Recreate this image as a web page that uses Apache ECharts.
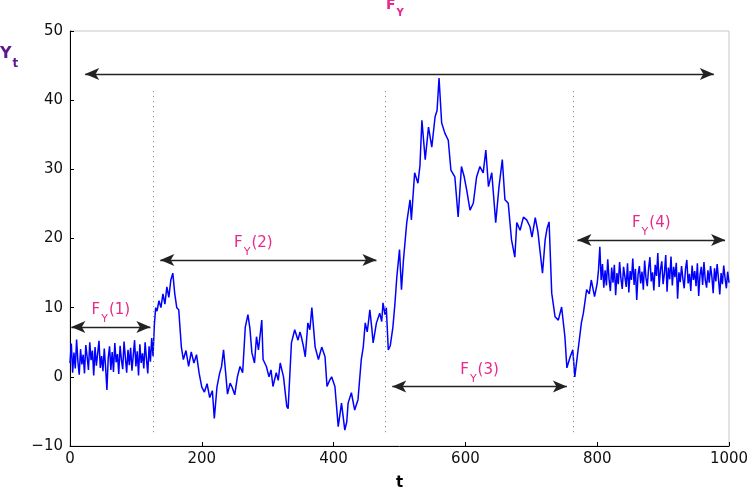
<!DOCTYPE html>
<html>
<head>
<meta charset="utf-8">
<script src="https://cdn.jsdelivr.net/npm/echarts@6/dist/echarts.min.js"></script>
<style>
  html, body { margin: 0; padding: 0; background: #fff; }
  #chart { width: 748px; height: 498px; }
</style>
</head>
<body>
<div id="chart"></div>
<script>
// series Y_t as [t, value]
const yPoints = [
  [0, 2.0], [2, 4.8], [4, 0.6], [6, 3.5], [8, 1.2], [10, 5.4], [12, 2.2], [14, 0.3], [16, 4.0], [18, 1.8],
  [20, 3.2], [22, 0.5], [24, 4.6], [26, 2.9], [28, 1.0], [30, 5.0], [32, 2.4], [34, 3.8], [36, 0.2], [38, 4.3],
  [40, 1.6], [42, 3.4], [44, 5.2], [46, 1.3], [48, 3.0], [50, 0.8], [52, 4.1], [54, 1.4], [56, -1.9], [58, 2.7],
  [60, 4.4], [62, 1.0], [64, 3.6], [66, 0.7], [68, 4.9], [70, 2.1], [72, 3.3], [74, 0.4], [76, 4.5], [78, 2.5],
  [80, 1.1], [82, 5.1], [84, 2.8], [86, 0.6], [88, 3.9], [90, 1.7], [92, 4.2], [94, 0.9], [96, 3.1], [98, 5.3],
  [100, 1.5], [102, 3.7], [104, 0.2], [106, 4.7], [108, 2.0], [110, 3.4], [112, 1.2], [114, 5.0], [116, 2.6], [118, 0.5],
  [120, 4.4], [122, 2.2], [124, 5.6], [126, 3.0], [128, 7.5],
  [130, 10.0], [132, 9.5], [135, 11.0], [138, 10.0], [141, 12.0], [144, 10.5], [147, 13.0], [150, 11.5], [153, 14.0], [156, 15.0],
  [159, 12.0], [162, 10.0], [165, 9.7], [169, 4.3], [172, 2.5], [176, 3.8], [180, 1.5], [184, 3.6], [188, 2.0], [192, 3.2],
  [196, 0.5], [200, -1.5], [204, -2.2], [208, -1.0], [212, -3.0], [216, -2.0], [219, -6.0], [223, -1.5], [227, 0.5], [230, 1.5],
  [233, 3.9], [236, 0.8], [239, -2.5], [243, -0.9], [246, -1.5], [250, -2.6], [254, 0.0], [258, 1.5], [262, 0.6], [266, 7.2],
  [270, 9.0], [273, 7.0], [276, 3.5], [280, 2.0], [283, 5.8], [286, 3.9], [291, 8.2], [293, 2.5], [298, 1.5], [302, 0.0],
  [305, 1.0], [308, -1.4], [313, 0.6], [316, -0.5], [319, 2.0], [324, 0.0], [329, -4.3], [331, -4.6], [336, 4.9], [341, 6.8],
  [346, 5.3], [349, 6.5], [351, 5.8], [354, 4.5], [357, 2.9], [361, 7.8], [364, 6.8], [367, 10.0], [372, 4.3], [377, 2.5],
  [382, 4.3], [387, 2.9], [390, -1.4], [394, -0.5], [397, 0.0], [402, -1.4], [407, -7.2], [412, -3.8], [417, -7.7], [420, -6.5],
  [422, -3.8], [427, -2.3], [432, -4.8], [437, -3.3], [442, 2.5], [445, 4.3], [448, 7.8], [451, 6.5], [453, 8.0], [455, 9.7],
  [458, 7.0], [460, 4.9], [465, 7.8], [470, 9.2], [473, 8.0], [475, 10.7], [478, 9.0], [480, 10.0], [483, 3.9], [486, 4.5],
  [490, 7.2], [493, 10.5], [496, 14.5], [500, 18.4], [503, 12.6], [506, 16.9], [511, 22.3], [516, 25.6], [518, 22.7], [523, 29.5],
  [528, 28.0], [531, 30.5], [534, 37.1], [539, 31.4], [544, 36.1], [549, 33.2], [554, 37.6], [557, 38.5], [560, 43.2], [564, 36.7],
  [569, 35.2], [574, 34.2], [578, 29.9], [584, 28.9], [589, 23.1], [594, 30.4], [598, 29.0], [602, 27.0], [607, 24.1], [612, 25.1],
  [617, 28.9], [622, 30.4], [627, 29.5], [631, 32.8], [635, 27.5], [640, 29.5], [646, 22.3], [651, 27.5], [656, 31.4], [660, 25.6],
  [665, 25.1], [670, 19.8], [675, 17.3], [678, 22.3], [683, 21.2], [688, 23.1], [693, 22.7], [698, 21.7], [701, 20.2], [706, 23.0],
  [710, 21.0], [713, 18.4], [717, 15.0], [721, 19.8], [724, 21.5], [727, 22.4], [731, 12.1], [736, 8.7], [741, 8.2], [746, 10.1],
  [751, 5.8], [754, 1.3], [759, 2.9], [763, 3.9], [766, 0.0], [771, 3.9], [776, 7.8], [779, 9.2], [784, 12.6], [788, 12.0],
  [791, 14.0], [796, 11.6], [800, 13.5], [802, 15.5], [804, 18.8],
  [806, 14.0], [808, 16.3], [810, 12.9], [812, 15.4], [814, 13.2], [816, 17.0], [818, 14.1], [820, 12.4], [822, 15.8], [824, 13.6],
  [826, 16.2], [828, 11.8], [830, 15.0], [832, 13.4], [834, 16.6], [836, 14.2], [838, 12.7], [840, 15.9], [842, 14.5], [844, 13.0],
  [846, 16.4], [848, 12.2], [850, 15.3], [852, 14.0], [854, 17.1], [856, 13.3], [858, 15.6], [860, 11.1], [862, 14.8], [864, 16.0],
  [866, 13.5], [868, 15.2], [870, 12.6], [872, 16.8], [874, 14.3], [876, 13.1], [878, 15.7], [880, 17.3], [882, 13.8], [884, 15.1],
  [886, 12.5], [888, 16.2], [890, 14.6], [892, 17.9], [894, 13.0], [896, 15.5], [898, 16.7], [900, 13.4], [902, 15.0], [904, 17.6],
  [906, 12.3], [908, 15.8], [910, 14.1], [912, 17.4], [914, 13.2], [916, 15.9], [918, 14.4], [920, 16.5], [922, 11.3], [924, 15.1],
  [926, 13.7], [928, 16.0], [930, 14.2], [932, 12.8], [934, 15.6], [936, 16.9], [938, 13.5], [940, 14.9], [942, 12.4], [944, 16.1],
  [946, 14.0], [948, 15.3], [950, 13.1], [952, 16.4], [954, 11.7], [956, 14.7], [958, 15.9], [960, 13.3], [962, 16.6], [964, 14.0],
  [966, 12.9], [968, 15.4], [970, 13.6], [972, 16.0], [974, 14.5], [976, 12.1], [978, 15.7], [980, 13.8], [982, 16.3], [984, 14.2],
  [986, 11.9], [988, 15.0], [990, 13.4], [992, 16.1], [994, 14.3], [996, 12.8], [998, 15.2], [1000, 13.6]
];

// change points (dotted verticals)
const breakTimes = [127, 478, 764];
const breakRange = [-8, 41.5];

// double arrows: [tStart, tEnd, level, label]
const arrows = [
  [23, 977, 43.8, ''],
  [2, 122, 7.2, '1'],
  [137, 465, 16.9, '2'],
  [489, 754, -1.4, '3'],
  [770, 994, 19.8, '4']
];

const xTicks = [0, 1000, 200];
const yTicks = [-10, 50, 10];

const pink = '#e8288a';
const fontFamily = '"DejaVu Sans", Verdana, sans-serif';

const chart = echarts.init(document.getElementById('chart'));

// big letters sit at the top of the line box, subscripts at the bottom
const fyRich = {
  a: { color: pink, fontSize: 15, fontFamily: fontFamily, lineHeight: 22, verticalAlign: 'top' },
  s: { color: pink, fontSize: 11, fontFamily: fontFamily, lineHeight: 22, verticalAlign: 'bottom', padding: [0, 1, 0, 1] }
};

const option = {
  animation: false,
  backgroundColor: '#fff',
  grid: {
    left: 70, right: 19, top: 31, bottom: 52,
    outerBoundsMode: 'none',
    show: true, borderColor: '#c8c8c8', borderWidth: 1
  },
  title: {
    text: '{a|F}{s|Y}',
    left: 386, top: -2,
    padding: 0,
    textStyle: {
      rich: {
        a: { color: pink, fontSize: 14, fontWeight: 'bold', fontFamily: fontFamily, lineHeight: 20, verticalAlign: 'top' },
        s: { color: pink, fontSize: 10, fontWeight: 'bold', fontFamily: fontFamily, lineHeight: 20, verticalAlign: 'bottom', padding: [0, 0, 0, 1] }
      }
    }
  },
  graphic: [{
    type: 'text',
    left: 0, top: 46,
    style: {
      text: '{a|Y}{s|t}',
      rich: {
        a: { fill: '#5b1a8c', fontSize: 16, fontWeight: 'bold', fontFamily: fontFamily, lineHeight: 24, verticalAlign: 'top' },
        s: { fill: '#5b1a8c', fontSize: 12, fontWeight: 'bold', fontFamily: fontFamily, lineHeight: 24, verticalAlign: 'bottom', padding: [0, 0, 0, 1] }
      }
    }
  }],
  xAxis: {
    type: 'value',
    min: xTicks[0], max: xTicks[1], interval: xTicks[2],
    name: 't', nameLocation: 'middle', nameGap: 30,
    nameTextStyle: { color: '#000', fontSize: 15, fontWeight: 'bold', fontFamily: fontFamily },
    axisLine: { onZero: false, lineStyle: { color: '#000', width: 1 } },
    axisTick: { inside: true, length: 4, lineStyle: { color: '#000' } },
    axisLabel: { color: '#111', fontSize: 15, fontFamily: fontFamily, margin: 6, formatter: v => String(v) },
    splitLine: { show: false }
  },
  yAxis: {
    type: 'value',
    min: yTicks[0], max: yTicks[1], interval: yTicks[2],
    axisLine: { show: true, onZero: false, lineStyle: { color: '#000', width: 1 } },
    axisTick: { show: true, inside: true, length: 4, lineStyle: { color: '#000' } },
    axisLabel: {
      color: '#111', fontSize: 15, fontFamily: fontFamily, margin: 7,
      formatter: v => String(v).replace('-', '\u2212')
    },
    splitLine: { show: false }
  },
  series: [
    {
      type: 'line',
      data: yPoints,
      symbol: 'none',
      lineStyle: { color: '#0000ff', width: 1.5 },
      z: 3
    },
    {
      type: 'line',
      data: [],
      silent: true,
      markLine: {
        silent: true,
        symbol: 'none',
        animation: false,
        label: { show: false },
        lineStyle: { color: '#777', type: [1, 4], width: 1 },
        data: breakTimes.map(t => [{ coord: [t, breakRange[0]] }, { coord: [t, breakRange[1]] }])
      }
    },
    {
      type: 'line',
      data: [],
      silent: true,
      markLine: {
        silent: true,
        animation: false,
        symbol: ['arrow', 'arrow'],
        symbolSize: [9, 14],
        lineStyle: { color: '#222', type: 'solid', width: 1.3 },
        data: arrows.map(a => [
          {
            coord: [a[0], a[2]],
            label: {
              show: a[3] !== '',
              position: 'insideMiddleTop',
              distance: 2,
              // the (2) label sits left of its arrow's middle
              padding: a[3] === '2' ? [0, 30, 0, 0] : 0,
              formatter: '{a|F}{s|Y}{a|(' + a[3] + ')}',
              rich: fyRich
            }
          },
          { coord: [a[1], a[2]] }
        ])
      }
    }
  ]
};

chart.setOption(option);
</script>
</body>
</html>
